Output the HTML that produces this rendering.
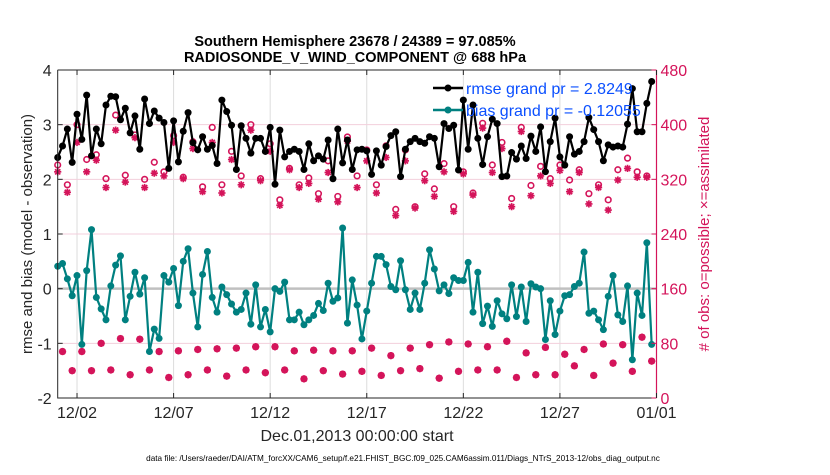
<!DOCTYPE html>
<html><head><meta charset="utf-8"><style>
body{margin:0;background:#fff;}
svg text{font-family:"Liberation Sans",sans-serif;}
</style></head><body>
<svg id="chart" width="830" height="470" xmlns="http://www.w3.org/2000/svg">
<rect width="830" height="470" fill="#fff"/>
<g id="grid"></g>
<g id="marks"></g>
<g id="axes"></g>
<text x="355" y="46" text-anchor="middle" font-size="14.5" font-weight="bold">Southern Hemisphere 23678 / 24389 = 97.085%</text>
<text x="355" y="62" text-anchor="middle" font-size="14.5" font-weight="bold">RADIOSONDE_V_WIND_COMPONENT @ 688 hPa</text>
<text transform="translate(32,234) rotate(-90)" text-anchor="middle" font-size="15" fill="#262626">rmse and bias (model - observation)</text>
<text transform="translate(709,234) rotate(-90)" text-anchor="middle" font-size="15" fill="#d4145a"># of obs: o=possible; ×=assimilated</text>
<text x="357" y="441" text-anchor="middle" font-size="16" fill="#262626">Dec.01,2013 00:00:00 start</text>
<text x="403" y="461" text-anchor="middle" font-size="8.2" fill="#000">data file: /Users/raeder/DAI/ATM_forcXX/CAM6_setup/f.e21.FHIST_BGC.f09_025.CAM6assim.011/Diags_NTrS_2013-12/obs_diag_output.nc</text>
<g>
<line x1="433" y1="88" x2="463" y2="88" stroke="#000" stroke-width="2.5"/><circle cx="448" cy="88" r="3.5" fill="#000"/>
<text x="466" y="94" font-size="16" fill="#0a4fff">rmse grand pr = 2.8249</text>
<line x1="433" y1="110" x2="463" y2="110" stroke="#008080" stroke-width="2.5"/><circle cx="448" cy="110" r="3.5" fill="#008080"/>
<text x="466" y="116" font-size="16" fill="#0a4fff">bias grand pr = -0.12055</text>
</g>
</svg>
<script>
const rmse=[2.40,2.61,2.92,2.31,3.19,2.73,3.54,2.43,2.92,2.65,3.36,3.52,3.51,3.09,3.30,2.85,3.16,2.55,3.47,3.02,3.25,3.12,3.04,2.20,3.07,2.32,2.88,3.22,2.67,2.54,2.78,2.55,
2.62,2.29,3.45,3.24,2.99,2.18,2.98,2.75,2.48,2.75,2.75,2.51,2.95,1.91,2.90,2.41,2.51,2.55,2.51,2.18,2.65,2.34,2.43,2.37,2.72,2.01,2.92,2.30,2.72,2.18,2.54,
2.55,2.52,2.09,2.52,2.26,2.60,2.80,2.87,2.05,2.55,2.69,2.75,2.69,2.66,2.78,2.75,2.23,3.02,2.93,2.99,2.17,3.45,2.55,3.36,2.75,2.27,2.78,3.10,3.02,2.05,
2.06,2.49,2.37,2.61,2.38,2.79,2.51,2.96,2.14,2.69,3.12,2.41,2.26,2.78,2.46,2.51,2.69,3.13,2.91,2.69,2.34,2.63,2.59,2.61,2.59,3.01,3.66,2.87,2.87,3.39,3.79];
const bias=[0.41,0.46,0.18,-0.13,0.24,-1.02,0.33,1.08,-0.16,-0.37,-0.57,0.05,0.43,0.60,-0.57,-0.14,0.30,-0.10,0.20,-1.15,-0.74,-0.91,0.24,0.12,0.37,-0.31,0.50,0.73,-0.08,-0.70,0.26,0.68,
-0.16,-0.43,0.03,-0.11,-0.28,-0.43,-0.38,-0.08,-0.65,0.07,-0.70,-0.38,-0.79,0.00,-0.05,0.12,-0.57,-0.57,-0.43,-0.66,-0.57,-0.49,-0.27,-0.40,0.10,-0.23,-0.17,1.11,-0.63,0.16,-0.30,
-0.92,-0.41,0.10,0.59,0.59,0.44,0.04,-0.02,0.51,-0.02,-0.38,-0.08,-0.38,0.10,0.71,0.36,-0.04,0.07,-0.09,0.20,0.15,0.15,0.48,-0.43,0.30,-0.64,-0.32,-0.69,-0.22,-0.46,
-0.55,0.07,-0.51,0.03,-0.60,0.09,0.03,0.00,-0.93,-0.22,-0.84,-0.41,-0.13,-0.11,0.04,0.10,0.67,-0.45,-0.41,-0.57,-0.75,-0.14,0.24,-0.48,-0.60,0.05,-1.30,-0.08,-0.49,0.84,-1.02];
const possEven=[341,312,400,349,356,321,414,326,385,320,345,331,384,323,375,309,
396,312,361,325,400,321,372,290,336,312,322,299,347,295,382,325,
363,312,369,276,363,280,328,306,343,280,331,300,402,341,374,
292,396,311,339,321,341,319,334,299,312,290,334,351,331,325];
const assimEven=[331,301,374,331,348,308,392,316,381,308,329,325,374,321,365,302,
374,300,349,312,392,318,361,282,334,308,314,291,330,287,376,308,
347,300,352,267,347,278,318,295,331,273,328,297,395,330,365,
280,390,296,325,314,333,302,330,284,308,275,319,336,323,323];
const countOdd=[68,40,68,40,80,41,87,34,86,41,68,30,69,34,71,41,72,32,73,41,75,37,75,41,69,28,70,40,69,35,69,39,
73,33,62,40,73,43,78,29,82,39,79,41,75,41,83,30,66,34,74,34,64,47,71,33,79,51,78,39,89,54];
const yTicks=[4,3,2,1,0,-1,-2];
const rTicks=[480,400,320,240,160,80,0];
const xTickLabels=["12/02","12/07","12/12","12/17","12/22","12/27","01/01"];
const xTickDays=[1,6,11,16,21,26,31];

const L=57.7,R=656.5,T=70,B=398;
const NS="http://www.w3.org/2000/svg";
const X=d=>L+(d/31)*(R-L);
const Y=v=>T+(4-v)/6*(B-T);
const YR=c=>B-c/480*(B-T);
function mk(tag,attrs,parent){const e=document.createElementNS(NS,tag);for(const k in attrs)e.setAttribute(k,attrs[k]);parent.appendChild(e);return e;}
const grid=document.getElementById('grid'),marks=document.getElementById('marks'),axes=document.getElementById('axes');

xTickDays.forEach(d=>{const l=mk('line',{x1:X(d),x2:X(d),y1:T,y2:B,stroke:'#dcdcdc','stroke-width':1},grid);

});
rTicks.forEach(c=>{if(c===0||c===480||c===160)return;const l=mk('line',{x1:L,x2:R,y1:YR(c),y2:YR(c),stroke:'#f3cfdc','stroke-width':1},grid);

});
const zl=mk('line',{x1:L,x2:R,y1:Y(0),y2:Y(0),stroke:'#c0c0c0','stroke-width':2.5},grid);



function asterisk(x,y,name){const g=mk('g',{},marks);


[[0,3.6],[3.6,0],[2.6,2.6],[2.6,-2.6]].forEach(([dx,dy])=>mk('line',{x1:x-dx,y1:y-dy,x2:x+dx,y2:y+dy,stroke:'#d4145a','stroke-width':1.7},g));}
function circ(x,y,name){const c=mk('circle',{cx:x,cy:y,r:2.8,fill:'none',stroke:'#d4145a','stroke-width':1.6},marks);

}
possEven.forEach((c,k)=>circ(X(k*2/4),YR(c),'possible-count'));
assimEven.forEach((c,k)=>asterisk(X(k*2/4),YR(c),'assimilated-count'));
countOdd.forEach((c,k)=>{circ(X((k*2+1)/4),YR(c),'possible-count');asterisk(X((k*2+1)/4),YR(c),'assimilated-count');});

function series(arr,color,name){
const p=mk('polyline',{points:arr.map((v,i)=>X(i/4)+','+Y(v)).join(' '),fill:'none',stroke:color,'stroke-width':2.2,'stroke-linejoin':'round'},marks);


arr.forEach((v,i)=>{const c=mk('circle',{cx:X(i/4),cy:Y(v),r:3.5,fill:color},marks);

});}
series(bias,'#008080','bias');
series(rmse,'#000','rmse');

const fr=mk('path',{d:`M${L},${T}V${B}H${R}M${L},${T}H${R}`,fill:'none',stroke:'#262626','stroke-width':1},axes);


const ra=mk('line',{x1:R,x2:R,y1:T,y2:B,stroke:'#d4145a','stroke-width':1.2},axes);


yTicks.forEach(v=>{mk('line',{x1:L,x2:L+5,y1:Y(v),y2:Y(v),stroke:'#262626'},axes);
const t=mk('text',{x:L-6,y:Y(v)+6,'text-anchor':'end','font-size':16,fill:'#262626'},axes);t.textContent=v;

});
rTicks.forEach(c=>{mk('line',{x1:R-5,x2:R,y1:YR(c),y2:YR(c),stroke:'#d4145a'},axes);
const t=mk('text',{x:R+4,y:YR(c)+6,'font-size':16,fill:'#d4145a'},axes);t.textContent=c;

});
xTickDays.forEach((d,i)=>{mk('line',{x1:X(d),x2:X(d),y1:B,y2:B-5,stroke:'#262626'},axes);mk('line',{x1:X(d),x2:X(d),y1:T,y2:T+5,stroke:'#262626'},axes);
const t=mk('text',{x:X(d),y:B+20,'text-anchor':'middle','font-size':16,fill:'#262626'},axes);t.textContent=xTickLabels[i];

});
</script>
</body></html>
